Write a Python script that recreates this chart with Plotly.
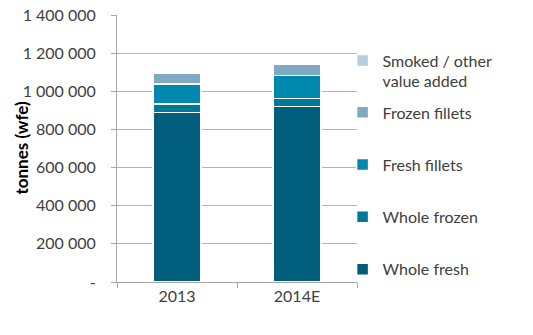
import plotly.graph_objects as go

categories = ["2013", "2014E"]
whole_fresh = [890000, 920000]
whole_frozen = [44000, 42000]
fresh_fillets = [104000, 121000]
frozen_fillets = [57000, 60000]
smoked_other = [3000, 3000]

series_names = ["Whole fresh", "Whole frozen", "Fresh fillets", "Frozen fillets",
                "Smoked / other<br>value added"]
series_values = [whole_fresh, whole_frozen, fresh_fillets, frozen_fillets, smoked_other]
series_colors = ["#005d7c", "#00789b", "#0088ae", "#80a9c3", "#b5cde0"]
series_legends = ["legend", "legend", "legend", "legend", "legend2"]
series_ranks = [4, 3, 2, 1, 0]

tick_vals = [0, 200000, 400000, 600000, 800000, 1000000, 1200000, 1400000]
tick_text = ["-", "200 000", "400 000", "600 000", "800 000", "1 000 000", "1 200 000", "1 400 000"]

fig = go.Figure()
for i, (name, vals, col, lg, rk) in enumerate(zip(series_names, series_values, series_colors,
                                                  series_legends, series_ranks)):
    fig.add_trace(go.Bar(
        x=categories, y=vals, name=name, legendgroup=str(i), legend=lg, legendrank=rk,
        marker=dict(color=col, line=dict(color="white", width=1.5)),
        width=0.4,
    ))

legend_common = dict(
    x=0.94, xanchor="left", yanchor="top", valign="top",
    font=dict(size=16, color="#404040"),
    bgcolor="rgba(0,0,0,0)",
)

fig.update_layout(
    barmode="stack",
    width=533, height=335,
    margin=dict(l=117, r=176, t=15, b=53, autoexpand=False),
    paper_bgcolor="white", plot_bgcolor="white",
    font=dict(family="Lato, Open Sans, sans-serif", size=16, color="#404040"),
    showlegend=True,
    legend=dict(traceorder="grouped", tracegroupgap=28.5, y=0.699, **legend_common),
    legend2=dict(y=0.893, **legend_common),
    xaxis=dict(
        showline=True, linecolor="#a6a6a6", linewidth=1,
        ticks="outside", tickson="boundaries", ticklen=5, tickcolor="#a6a6a6",
        showgrid=False, tickfont=dict(size=16),
    ),
    yaxis=dict(
        range=[0, 1400000], tickvals=tick_vals, ticktext=tick_text,
        showline=True, linecolor="#a6a6a6", linewidth=1,
        ticks="outside", ticklen=5, tickcolor="#a6a6a6",
        ticklabelstandoff=12,
        showgrid=True, gridcolor="#b3b3b3", gridwidth=1,
        zeroline=False, tickfont=dict(size=16),
    ),
    annotations=[dict(
        text="<b>tonnes (wfe)</b>", textangle=-90,
        xref="paper", yref="paper", x=-0.4, y=0.5,
        xanchor="center", yanchor="middle", showarrow=False,
        font=dict(size=17, color="#000000"),
    )],
)

fig.write_html("out.html")
